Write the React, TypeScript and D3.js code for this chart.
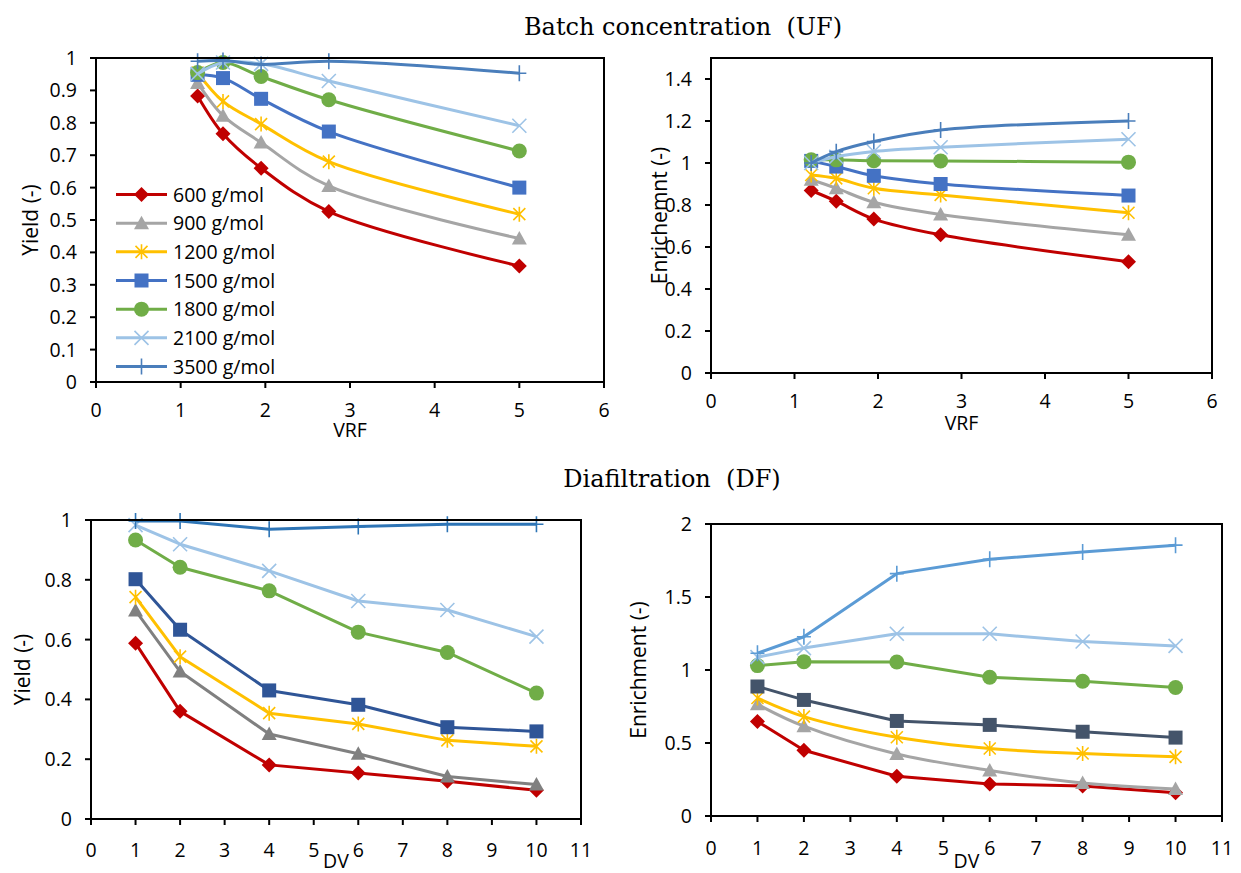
import React from "react";
import * as d3 from "d3";

const seriesLabels = ["600 g/mol", "900 g/mol", "1200 g/mol", "1500 g/mol", "1800 g/mol", "2100 g/mol", "3500 g/mol"];
const markerTypes = ["diamond", "triangle", "star", "square", "circle", "x", "plus"];

const vrf = [1.2, 1.5, 1.95, 2.75, 5];
const dv = [1, 2, 4, 6, 8, 10];

const ufYield = [
  [0.883, 0.766, 0.66, 0.526, 0.358],
  [0.923, 0.822, 0.739, 0.605, 0.443],
  [0.955, 0.866, 0.796, 0.68, 0.518],
  [0.948, 0.938, 0.874, 0.773, 0.6],
  [0.955, 0.986, 0.943, 0.871, 0.713],
  [0.951, 0.986, 0.982, 0.929, 0.791],
  [0.99, 0.992, 0.98, 0.99, 0.953],
];

const ufEnrich = [
  [0.869, 0.818, 0.733, 0.658, 0.53],
  [0.92, 0.88, 0.813, 0.755, 0.658],
  [0.943, 0.927, 0.88, 0.848, 0.763],
  [1.01, 0.983, 0.939, 0.9, 0.845],
  [1.015, 1.015, 1.011, 1.01, 1.004],
  [1.0, 1.03, 1.055, 1.075, 1.113],
  [1.0, 1.054, 1.102, 1.157, 1.2],
];

const dfYield = [
  [0.588, 0.36, 0.181, 0.154, 0.126, 0.096],
  [0.697, 0.493, 0.284, 0.218, 0.142, 0.115],
  [0.742, 0.543, 0.354, 0.318, 0.263, 0.243],
  [0.802, 0.633, 0.43, 0.382, 0.307, 0.293],
  [0.933, 0.842, 0.763, 0.625, 0.557, 0.421],
  [0.983, 0.919, 0.83, 0.729, 0.699, 0.61],
  [0.997, 0.997, 0.969, 0.978, 0.986, 0.986],
];

const dfEnrich = [
  [0.648, 0.45, 0.272, 0.22, 0.205, 0.16],
  [0.765, 0.615, 0.425, 0.312, 0.226, 0.185],
  [0.808, 0.681, 0.539, 0.462, 0.428, 0.405],
  [0.887, 0.795, 0.651, 0.624, 0.577, 0.537],
  [1.03, 1.057, 1.055, 0.95, 0.923, 0.88],
  [1.088, 1.15, 1.248, 1.248, 1.195, 1.165],
  [1.115, 1.228, 1.66, 1.758, 1.808, 1.855],
];

const ufColors = ["#C00000", "#A5A5A5", "#FFC000", "#4472C4", "#70AD47", "#9DC3E6", "#4A7EBB"];
const dfYieldColors = ["#C00000", "#808080", "#FFC000", "#2F5597", "#70AD47", "#9DC3E6", "#2E75B6"];
const dfEnrichColors = ["#C00000", "#A5A5A5", "#FFC000", "#44546A", "#70AD47", "#9DC3E6", "#5B9BD5"];

const vrfTicks = [0, 1, 2, 3, 4, 5, 6];
const dvTicks = [0, 1, 2, 3, 4, 5, 6, 7, 8, 9, 10, 11];
const ufYieldTicks = [0, 0.1, 0.2, 0.3, 0.4, 0.5, 0.6, 0.7, 0.8, 0.9, 1];
const ufEnrichTicks = [0, 0.2, 0.4, 0.6, 0.8, 1, 1.2, 1.4];
const dfYieldTicks = [0, 0.2, 0.4, 0.6, 0.8, 1];
const dfEnrichTicks = [0, 0.5, 1, 1.5, 2];

const FONT = "'Open Sans', 'Noto Sans', sans-serif";
const FS = 19.5;
const FS_Y = 21;

function Marker({ type, x, y, color }: { type: string; x: number; y: number; color: string }) {
  const t = `translate(${x},${y})`;
  switch (type) {
    case "diamond":
      return <path transform={t} d="M0,-7.5L7.5,0L0,7.5L-7.5,0Z" fill={color} />;
    case "triangle":
      return <path transform={t} d="M0,-7.5L7.5,6L-7.5,6Z" fill={color} />;
    case "square":
      return <rect x={x - 7} y={y - 7} width={14} height={14} fill={color} />;
    case "circle":
      return <circle cx={x} cy={y} r={7.5} fill={color} />;
    case "star":
      return (
        <path transform={t} d="M-6,-6L6,6M-6,6L6,-6M0,-7.5L0,7.5" stroke={color} strokeWidth={1.6} fill="none" />
      );
    case "x":
      return <path transform={t} d="M-7,-7L7,7M-7,7L7,-7" stroke={color} strokeWidth={1.6} fill="none" />;
    case "plus":
      return <path transform={t} d="M0,-8L0,8M-7,0L7,0" stroke={color} strokeWidth={1.6} fill="none" />;
    default:
      return null;
  }
}

type PanelProps = {
  left: number;
  right: number;
  top: number;
  bottom: number;
  xMax: number;
  yMax: number;
  xTicks: number[];
  yTicks: number[];
  xs: number[];
  values: number[][];
  colors: string[];
  smooth: boolean[];
  xTitle: string;
  yTitle: string;
  yTitleX: number;
  xTitleDy: number;
  xLabelDy: number;
};

function Panel(p: PanelProps) {
  const x = d3.scaleLinear().domain([0, p.xMax]).range([p.left, p.right]);
  const y = d3.scaleLinear().domain([0, p.yMax]).range([p.bottom, p.top]);
  const fmt = (v: number) => String(+v.toFixed(2));
  return (
    <g>
      {p.values.map((vals, i) => {
        const pts: [number, number][] = vals.map((v, j) => [x(p.xs[j]), y(v)]);
        const line = d3
          .line()
          .curve(p.smooth[i] ? d3.curveCatmullRom.alpha(0.5) : d3.curveLinear)(pts) as string;
        return (
          <g key={i}>
            <path d={line} fill="none" stroke={p.colors[i]} strokeWidth={3} strokeLinejoin="round" />
            {pts.map((pt, j) => (
              <Marker key={j} type={markerTypes[i]} x={pt[0]} y={pt[1]} color={p.colors[i]} />
            ))}
          </g>
        );
      })}
      <rect x={p.left} y={p.top} width={p.right - p.left} height={p.bottom - p.top} fill="none" stroke="#000" strokeWidth={2} />
      {p.xTicks.map((t) => (
        <g key={"x" + t}>
          <line x1={x(t)} x2={x(t)} y1={p.bottom} y2={p.bottom + 6} stroke="#000" strokeWidth={2} />
          <text x={x(t)} y={p.bottom + p.xLabelDy} textAnchor="middle" fontFamily={FONT} fontSize={FS} fill="#000">
            {fmt(t)}
          </text>
        </g>
      ))}
      {p.yTicks.map((t) => (
        <g key={"y" + t}>
          <line x1={p.left - 6} x2={p.left} y1={y(t)} y2={y(t)} stroke="#000" strokeWidth={2} />
          <text x={p.left - 19} y={y(t) + 7} textAnchor="end" fontFamily={FONT} fontSize={FS} fill="#000">
            {fmt(t)}
          </text>
        </g>
      ))}
      <text x={(p.left + p.right) / 2} y={p.bottom + p.xTitleDy} textAnchor="middle" fontFamily={FONT} fontSize={FS} fill="#000">
        {p.xTitle}
      </text>
      <text
        transform={`translate(${p.yTitleX},${(p.top + p.bottom) / 2}) rotate(-90)`}
        textAnchor="middle"
        fontFamily={FONT}
        fontSize={FS_Y}
        fill="#000"
      >
        {p.yTitle}
      </text>
    </g>
  );
}

function Legend() {
  const rowY = d3.scaleLinear().domain([0, 6]).range([194.5, 366.5]);
  return (
    <g>
      {seriesLabels.map((lab, i) => (
        <g key={lab}>
          <line x1={116} x2={167} y1={rowY(i)} y2={rowY(i)} stroke={ufColors[i]} strokeWidth={3} />
          <Marker type={markerTypes[i]} x={141.5} y={rowY(i)} color={ufColors[i]} />
          <text x={173} y={rowY(i) + 7} fontFamily={FONT} fontSize={FS} fill="#000">
            {lab}
          </text>
        </g>
      ))}
    </g>
  );
}

export default function App() {
  const allSmooth = seriesLabels.map(() => true);
  const noSmooth = seriesLabels.map(() => false);
  const dfEnrichSmooth = [false, true, true, false, false, false, false];
  return (
    <svg
      width={1241}
      height={873}
      viewBox="0 0 1241 873"
      style={{ position: "absolute", left: 0, top: 0, background: "#fff" }}
    >
      <rect width={1241} height={873} fill="#fff" />
      <text x={683} y={35} textAnchor="middle" fontFamily="'DejaVu Serif', serif" fontSize={24} fill="#000" style={{ whiteSpace: "pre" }}>
        {"Batch concentration  (UF)"}
      </text>
      <text x={672} y={487} textAnchor="middle" fontFamily="'DejaVu Serif', serif" fontSize={24} fill="#000" style={{ whiteSpace: "pre" }}>
        {"Diafiltration  (DF)"}
      </text>
      <Panel
        left={96} right={604} top={58} bottom={382}
        xMax={6} yMax={1}
        xTicks={vrfTicks} yTicks={ufYieldTicks}
        xs={vrf} values={ufYield} colors={ufColors} smooth={allSmooth}
        xTitle="VRF" yTitle="Yield (-)" yTitleX={38} xTitleDy={55} xLabelDy={35}
      />
      <Legend />
      <Panel
        left={711} right={1212} top={58} bottom={373}
        xMax={6} yMax={1.5}
        xTicks={vrfTicks} yTicks={ufEnrichTicks}
        xs={vrf} values={ufEnrich} colors={ufColors} smooth={allSmooth}
        xTitle="VRF" yTitle="Enrichemnt (-)" yTitleX={667} xTitleDy={57} xLabelDy={35}
      />
      <Panel
        left={91} right={581} top={520} bottom={819}
        xMax={11} yMax={1}
        xTicks={dvTicks} yTicks={dfYieldTicks}
        xs={dv} values={dfYield} colors={dfYieldColors} smooth={noSmooth}
        xTitle="DV" yTitle="Yield (-)" yTitleX={30} xTitleDy={49} xLabelDy={38}
      />
      <Panel
        left={711} right={1222} top={524} bottom={816}
        xMax={11} yMax={2}
        xTicks={dvTicks} yTicks={dfEnrichTicks}
        xs={dv} values={dfEnrich} colors={dfEnrichColors} smooth={dfEnrichSmooth}
        xTitle="DV" yTitle="Enrichment (-)" yTitleX={646} xTitleDy={52} xLabelDy={39}
      />
    </svg>
  );
}
